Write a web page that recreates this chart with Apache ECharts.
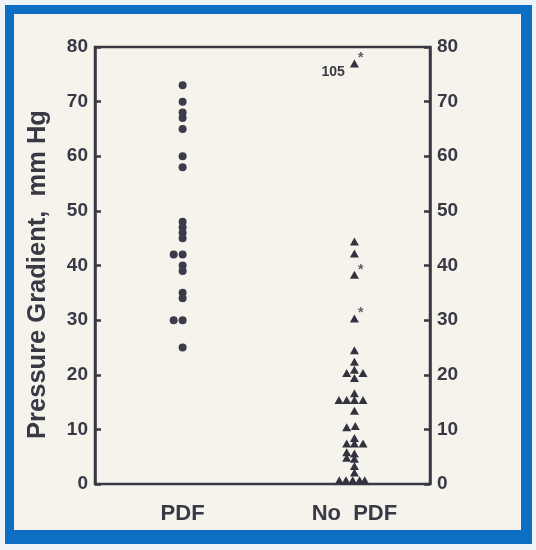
<!DOCTYPE html>
<html><head><meta charset="utf-8">
<script src="https://cdn.jsdelivr.net/npm/echarts@6/dist/echarts.min.js"></script>
<style>
html,body{margin:0;padding:0;background:#eef3f8;width:536px;height:550px;overflow:hidden;}
#frame{position:absolute;left:5px;top:5px;width:527px;height:539px;background:#0c6fc1;}
#inner{position:absolute;left:9px;top:9px;width:507px;height:516px;background:#f5f3ec;}
#chart{position:absolute;left:0;top:0;width:536px;height:550px;}
</style></head>
<body>
<div id="frame"><div id="inner"></div></div>
<div id="chart"></div>
<script>
// Categories and axis ticks
const categories = ['PDF', 'No PDF'];
const yTicks = [0, 10, 20, 30, 40, 50, 60, 70, 80];
const yTitle = 'Pressure Gradient,  mm Hg';

// PDF group (circles): column position (1 = PDF, small offsets for ties) and gradient
const pdfX = [1, 1, 1, 1, 1, 1, 1, 1, 1, 1, 1, 1, 0.948, 1, 1, 1, 1, 1, 0.948, 1];
const pdfY = [73, 70, 68, 67, 65, 60, 58, 48, 47, 46, 45, 42, 42, 40, 39, 35, 34, 30, 30, 25];

// No PDF group (triangles)
const noPdfX = [2, 2, 2, 2, 2, 2, 2,
  1.955, 2, 2.05, 2,
  1.91, 1.955, 2, 2.05, 2,
  2,
  1.955, 2.005,
  1.955, 2, 2.05, 2,
  1.955, 1.955, 2, 2, 2, 2,
  1.912, 1.951, 1.99, 2.03, 2.06];
const noPdfY = [77, 44.4, 42.2, 38.3, 30.3, 24.5, 22.4,
  20.3, 20.9, 20.3, 19.4,
  15.4, 15.4, 15.4, 15.4, 16.6,
  13.4,
  10.4, 10.6,
  7.4, 7.4, 7.4, 8.4,
  5.8, 4.8, 5.6, 4.6, 3.3, 2.1,
  0.7, 0.7, 0.7, 0.7, 0.7];
// indices of triangles flagged with an asterisk
const asteriskIdx = [0, 3, 4];
// off-scale point: plotted at top, true value written beside it
const offScaleIdx = 0;
const offScaleValue = '105';

const ink = '#393945';
const font = '"Liberation Sans", Arial, sans-serif';

const pdfData = pdfX.map((x, i) => [x, pdfY[i]]);
const noPdfData = noPdfX.map((x, i) => {
  const item = { value: [x, noPdfY[i]] };
  if (i === offScaleIdx) {
    item.label = { show: true, formatter: offScaleValue, position: 'left', distance: 5, offset: [0, 9],
      fontSize: 14, fontWeight: 'bold', color: ink, fontFamily: font };
  }
  return item;
});
const starData = asteriskIdx.map(i => [noPdfX[i], noPdfY[i]]);

const chart = echarts.init(document.getElementById('chart'), null, { renderer: 'canvas' });
const yAxisCommon = {
  type: 'value', min: 0, max: 80, interval: 10,
  axisLine: { show: true, lineStyle: { color: ink, width: 2.5 } },
  axisTick: { show: true, inside: true, length: 6, lineStyle: { color: ink, width: 2.5 } },
  splitLine: { show: false },
  axisLabel: { color: ink, fontSize: 19, fontWeight: 'bold', fontFamily: font, margin: 7,
    formatter: v => (yTicks.indexOf(v) >= 0 ? String(v) : '') }
};
chart.setOption({
  backgroundColor: 'transparent',
  animation: false,
  grid: { left: 95, right: 106, top: 47, bottom: 66, show: true, borderColor: ink, borderWidth: 2.5,
    backgroundColor: 'transparent' },
  xAxis: {
    type: 'value', min: 0.49, max: 2.44,
    axisLine: { show: false }, axisTick: { show: false }, splitLine: { show: false },
    axisLabel: { customValues: [1, 2], formatter: v => categories[Math.round(v) - 1].replace(' ', '  '),
      color: ink, fontSize: 22, fontWeight: 'bold', fontFamily: font, margin: 19 }
  },
  yAxis: [
    Object.assign({}, yAxisCommon, { position: 'left', name: yTitle, nameLocation: 'middle', nameGap: 44,
      nameTextStyle: { color: ink, fontSize: 25.5, fontWeight: 'bold', fontFamily: font, padding: [0, 18, 0, 0] } }),
    Object.assign({}, yAxisCommon, { position: 'right' })
  ],
  series: [
    { type: 'scatter', data: pdfData, symbol: 'circle', symbolSize: 8,
      itemStyle: { color: '#3b3b4c', opacity: 1 } },
    { type: 'scatter', data: noPdfData, symbol: 'triangle', symbolSize: [9, 8],
      itemStyle: { color: '#333340', opacity: 1 } },
    { type: 'scatter', data: starData, symbol: 'circle', symbolSize: 1, z: 5,
      itemStyle: { color: 'rgba(0,0,0,0)' },
      label: { show: true, formatter: '*', position: 'right', distance: 3, offset: [0, -5],
        color: ink, fontSize: 14, fontWeight: 'bold', fontFamily: font } }
  ]
});
</script>
</body></html>
